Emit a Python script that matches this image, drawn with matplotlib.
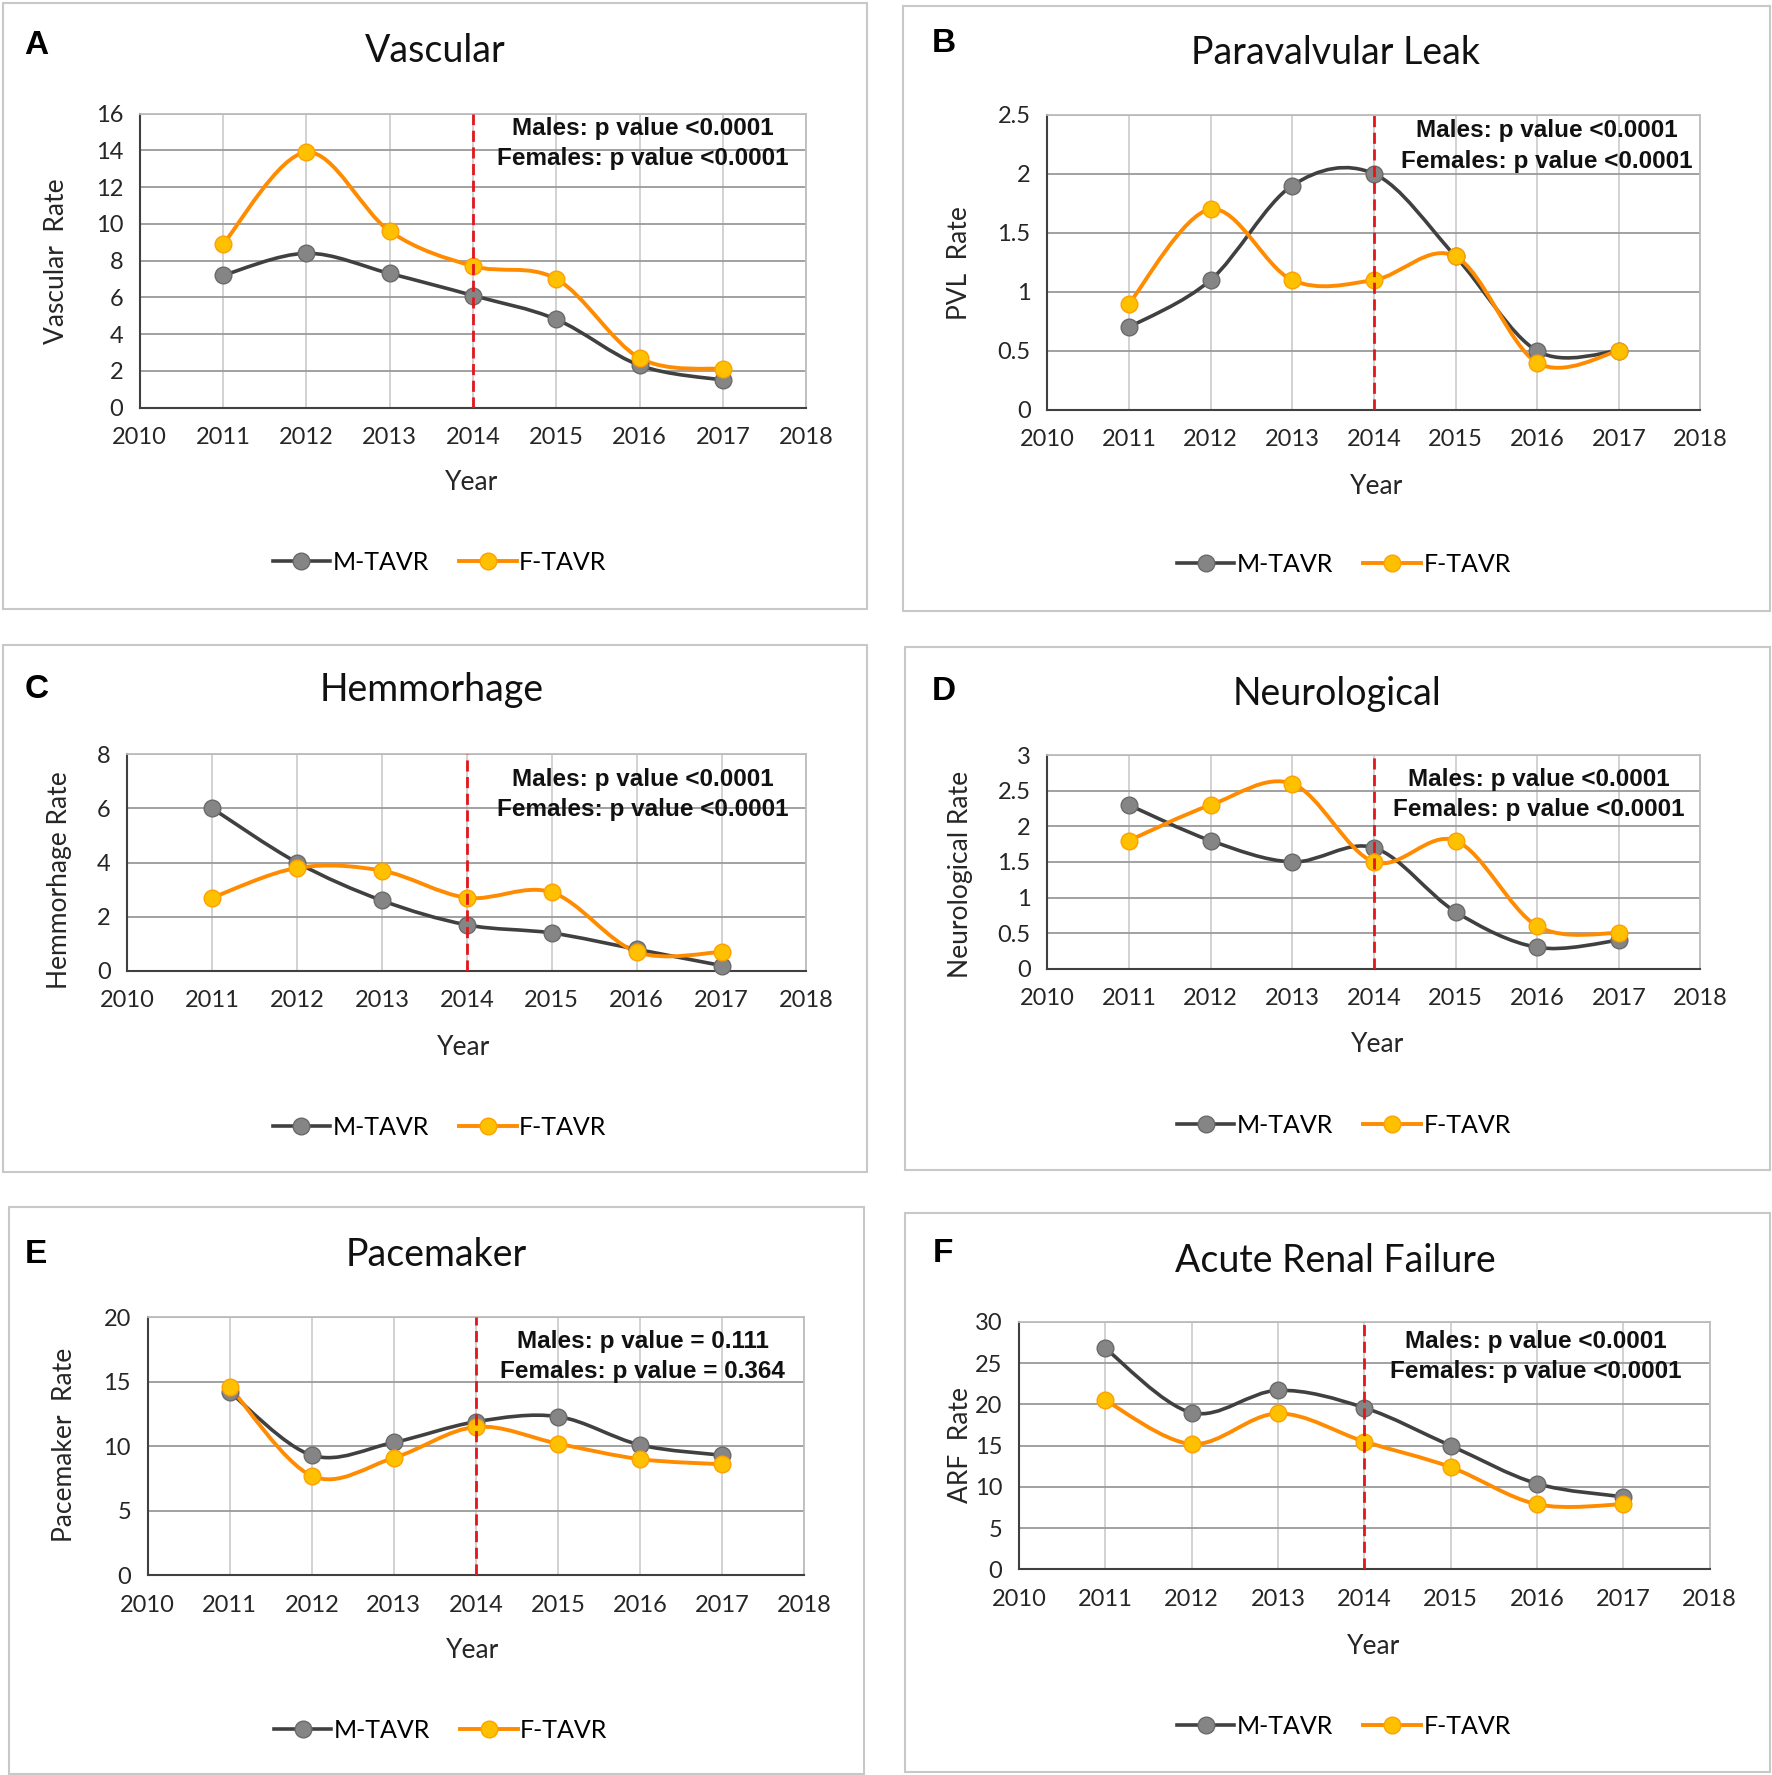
import matplotlib
matplotlib.use("Agg")
import matplotlib.pyplot as plt
from matplotlib.path import Path
from matplotlib.patches import PathPatch, Rectangle
from matplotlib.lines import Line2D
from matplotlib import font_manager

years = [2011, 2012, 2013, 2014, 2015, 2016, 2017]

vascular_m = [7.2, 8.4, 7.3, 6.1, 4.8, 2.3, 1.5]
vascular_f = [8.9, 13.9, 9.6, 7.7, 7.0, 2.7, 2.1]
pvl_m = [0.7, 1.1, 1.9, 2.0, 1.3, 0.5, 0.5]
pvl_f = [0.9, 1.7, 1.1, 1.1, 1.3, 0.4, 0.5]
hemo_m = [6.0, 4.0, 2.6, 1.7, 1.4, 0.8, 0.2]
hemo_f = [2.7, 3.8, 3.7, 2.7, 2.9, 0.7, 0.7]
neuro_m = [2.3, 1.8, 1.5, 1.7, 0.8, 0.3, 0.4]
neuro_f = [1.8, 2.3, 2.6, 1.5, 1.8, 0.6, 0.5]
pace_m = [14.2, 9.3, 10.3, 11.9, 12.3, 10.1, 9.3]
pace_f = [14.6, 7.7, 9.1, 11.5, 10.2, 9.0, 8.6]
arf_m = [26.8, 19.0, 21.7, 19.6, 15.0, 10.4, 8.8]
arf_f = [20.5, 15.2, 18.9, 15.5, 12.4, 7.9, 7.9]

letters = ["A", "B", "C", "D", "E", "F"]
titles = ["Vascular", "Paravalvular Leak", "Hemmorhage", "Neurological",
          "Pacemaker", "Acute Renal Failure"]
ylabels = ["Vascular  Rate", "PVL  Rate", "Hemmorhage Rate", "Neurological Rate",
           "Pacemaker  Rate", "ARF  Rate"]
ymaxes = [16, 2.5, 8, 3, 20, 30]
ysteps = [2, 0.5, 2, 0.5, 5, 5]
males_p = ["Males: p value <0.0001"] * 4 + ["Males: p value = 0.111", "Males: p value <0.0001"]
females_p = ["Females: p value <0.0001"] * 4 + ["Females: p value = 0.364", "Females: p value <0.0001"]
series = [(vascular_m, vascular_f), (pvl_m, pvl_f), (hemo_m, hemo_f),
          (neuro_m, neuro_f), (pace_m, pace_f), (arf_m, arf_f)]

# layout in reference pixel units (1560 x 1563 scaled view)
W, H = 1560.0, 1563.0
boxes = [(3, 3, 763, 536), (795, 5, 1558, 538), (3, 568, 763, 1032),
         (797, 570, 1558, 1030), (8, 1063, 761, 1562), (797, 1068, 1558, 1560)]
plots = [(123, 100, 710, 359), (922, 101, 1497, 361), (112, 664, 710, 855),
         (922, 665, 1497, 853), (130, 1160, 708, 1387), (897, 1164, 1505, 1382)]
title_pos = [(383, 45), (1176, 47), (380, 608), (1177, 611), (384, 1105), (1176, 1110)]
letter_pos = [(32, 40), (831, 38), (32, 607), (831, 609), (32, 1105), (830, 1104)]
year_pos = [(415, 425), (1212, 428), (408, 922), (1213, 920), (416, 1453), (1209, 1450)]
ylab_pos = [(50, 230), (845, 232), (52, 775), (846, 770), (57, 1272), (846, 1272)]
p_pos = [(566, 113), (1362, 115), (566, 686), (1355, 686), (566, 1181), (1352, 1181)]
leg_pos = [(387, 495), (1183, 497), (387, 993), (1183, 991), (388, 1524), (1183, 1520)]

M_LINE, M_MARK, M_EDGE = "#404040", "#858585", "#6a6a6a"
F_LINE, F_MARK, F_EDGE = "#FF8C00", "#FFC000", "#FFA000"

names = {f.name for f in font_manager.fontManager.ttflist}
if "Liberation Sans Narrow" in names:
    p_font, p_size = "Liberation Sans Narrow", 21
else:
    p_font, p_size = "Liberation Sans", 17.5
main_font = "Lato"


def fx(x):
    return x / W


def fy(y):
    return 1 - y / H


def smooth_path(xs, ys):
    pts = list(zip(xs, ys))
    n = len(pts)
    verts = [pts[0]]
    codes = [Path.MOVETO]
    for i in range(n - 1):
        p0 = pts[max(i - 1, 0)]
        p1 = pts[i]
        p2 = pts[i + 1]
        p3 = pts[min(i + 2, n - 1)]
        c1 = (p1[0] + (p2[0] - p0[0]) / 6, p1[1] + (p2[1] - p0[1]) / 6)
        c2 = (p2[0] - (p3[0] - p1[0]) / 6, p2[1] - (p3[1] - p1[1]) / 6)
        verts += [c1, c2, p2]
        codes += [Path.CURVE4] * 3
    return Path(verts, codes)


fig = plt.figure(figsize=(17.72, 17.75), dpi=100)

for k in range(6):
    bx0, by0, bx1, by1 = boxes[k]
    fig.patches.append(Rectangle((fx(bx0), fy(by1)), (bx1 - bx0) / W, (by1 - by0) / H,
                                 transform=fig.transFigure, fill=False,
                                 edgecolor="#c8c8c8", linewidth=1.5))
    px0, py0, px1, py1 = plots[k]
    ax = fig.add_axes([fx(px0), fy(py1), (px1 - px0) / W, (py1 - py0) / H])
    m_vals, f_vals = series[k]

    ax.set_xlim(2010, 2018)
    ax.set_ylim(0, ymaxes[k])
    ax.set_xticks(range(2010, 2019))
    nt = int(round(ymaxes[k] / ysteps[k]))
    yt = [ysteps[k] * i for i in range(nt + 1)]
    ax.set_yticks(yt)
    ax.set_yticklabels(["%g" % v for v in yt])
    ax.tick_params(length=0, labelsize=17, labelcolor="#262626")
    ax.tick_params(axis="x", pad=14)
    ax.tick_params(axis="y", pad=12)
    for lab in ax.get_xticklabels() + ax.get_yticklabels():
        lab.set_fontfamily(main_font)
    ax.grid(axis="y", color="#9a9a9a", linewidth=1.3)
    ax.grid(axis="x", color="#cfcfcf", linewidth=1.3)
    ax.set_axisbelow(True)
    for side in ["top", "right"]:
        ax.spines[side].set_color("#bdbdbd")
        ax.spines[side].set_linewidth(1.3)
    for side in ["left", "bottom"]:
        ax.spines[side].set_color("#404040")
        ax.spines[side].set_linewidth(1.5)

    ax.add_patch(PathPatch(smooth_path(years, m_vals), fill=False, edgecolor=M_LINE,
                           linewidth=2.6, zorder=3, capstyle="round"))
    ax.add_patch(PathPatch(smooth_path(years, f_vals), fill=False, edgecolor=F_LINE,
                           linewidth=2.8, zorder=4, capstyle="round"))
    ax.plot(years, m_vals, "o", markersize=12, markerfacecolor=M_MARK,
            markeredgecolor=M_EDGE, markeredgewidth=1, zorder=5, clip_on=False)
    ax.plot(years, f_vals, "o", markersize=12, markerfacecolor=F_MARK,
            markeredgecolor=F_EDGE, markeredgewidth=1, zorder=6, clip_on=False)
    ax.axvline(2014, color="#e3161c", linestyle=(0, (4, 2)), linewidth=2, zorder=7)

    fig.text(fx(title_pos[k][0]), fy(title_pos[k][1]), titles[k], ha="center",
             va="center", fontsize=27, family=main_font, color="#111111")
    fig.text(fx(letter_pos[k][0]), fy(letter_pos[k][1]), letters[k], ha="center",
             va="center", fontsize=24, fontweight="bold", family="Liberation Sans")
    fig.text(fx(year_pos[k][0]), fy(year_pos[k][1]), "Year", ha="center",
             va="center", fontsize=19, family=main_font, color="#262626")
    fig.text(fx(ylab_pos[k][0]), fy(ylab_pos[k][1]), ylabels[k], ha="center",
             va="center", rotation=90, fontsize=19, family=main_font, color="#262626")
    fig.text(fx(p_pos[k][0]), fy(p_pos[k][1]), males_p[k], ha="center", va="center",
             fontsize=p_size, fontweight="bold", family=p_font, color="#111111")
    fig.text(fx(p_pos[k][0]), fy(p_pos[k][1] + 27), females_p[k], ha="center", va="center",
             fontsize=p_size, fontweight="bold", family=p_font, color="#111111")

    handles = [
        Line2D([], [], color=M_LINE, linewidth=2.6, marker="o", markersize=12,
               markerfacecolor=M_MARK, markeredgecolor=M_EDGE),
        Line2D([], [], color=F_LINE, linewidth=2.8, marker="o", markersize=12,
               markerfacecolor=F_MARK, markeredgecolor=F_EDGE),
    ]
    ax.legend(handles, ["M-TAVR", "F-TAVR"], loc="center", ncol=2, frameon=False,
              bbox_to_anchor=(fx(leg_pos[k][0]), fy(leg_pos[k][1])),
              bbox_transform=fig.transFigure, handlelength=2.3, handletextpad=0.1,
              columnspacing=1.2, prop={"family": main_font, "size": 18})

fig.savefig("out.png", dpi=100)
